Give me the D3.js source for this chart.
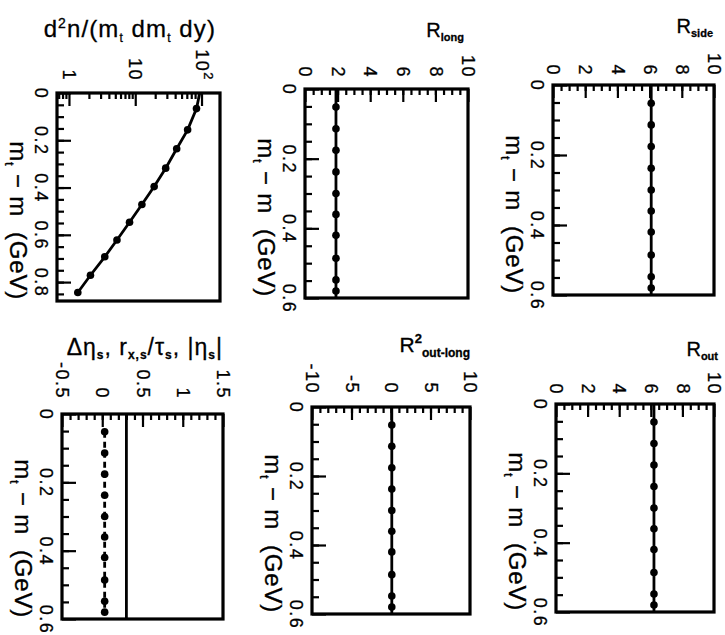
<!DOCTYPE html>
<html><head><meta charset="utf-8">
<script src="https://cdn.jsdelivr.net/npm/d3@7"></script>
<style>
body{margin:0;background:#fff}
svg text{font-family:"Liberation Sans",Arial,Helvetica,sans-serif;fill:#000;stroke:#000;stroke-width:0.3px}
</style>
</head><body>
<svg id="chart" width="725" height="635"></svg>
<script>
// ================= DATA =================
// m_t - m grid (GeV) shared by the HBT-radius panels
const mGrid = [0.052, 0.114, 0.176, 0.238, 0.300, 0.360, 0.420, 0.486, 0.548, 0.580];
const rSideValues     = [6.1, 6.1, 6.1, 6.1, 6.1, 6.1, 6.1, 6.1, 6.1, 6.1];
const rLongValues     = [1.9, 1.9, 1.9, 1.9, 1.9, 1.9, 1.9, 1.9, 1.9, 1.9];
const rOutValues      = [6.2, 6.2, 6.2, 6.2, 6.2, 6.2, 6.2, 6.2, 6.2, 6.2];
const rOutLong2Values = [0.1, 0.1, 0.1, 0.1, 0.1, 0.1, 0.1, 0.1, 0.1, 0.1];
const deltaEtaValues  = [0.03, 0.03, 0.03, 0.03, 0.03, 0.03, 0.03, 0.03, 0.03, 0.03];
// solid reference line in the eta panel
const etaSolidM      = [0, 0.6];
const etaSolidValues = [0.3, 0.3];
// single-particle spectrum d2n/(mt dmt dy)
const spectrumM      = [0.066, 0.156, 0.236, 0.318, 0.396, 0.472, 0.547, 0.622, 0.693, 0.771, 0.844];
const spectrumValues = [84, 61.7, 42.2, 28.8, 19.3, 12.6, 8.2, 5.3, 3.47, 2.11, 1.36];
const spectrumStartM = 0, spectrumStartValue = 94;
// tick labels
const mTickLabels         = [0, 0.2, 0.4, 0.6];
const spectrumMTickLabels = [0, 0.2, 0.4, 0.6, 0.8];
const radiusTickLabels    = [0, 2, 4, 6, 8, 10];
const r2TickLabels        = [-10, -5, 0, 5, 10];
const etaTickLabels       = [-0.5, 0, 0.5, 1, 1.5];
const spectrumTickLabels  = [1, 10, 100];

// ================= LAYOUT =================
const svg = d3.select('#chart');
svg.append('rect').attr('width', 725).attr('height', 635).attr('fill', '#fff');

const sub = (t, size = 11) => ({t, off: 4, size, weight: 'bold'});
const mTitle = [{t: 'm'}, {t: 't', off: 5, size: 13}, {t: '\u00a0\u2212\u00a0m\u00a0\u00a0(GeV)'}];

const panels = [
  {key: 'spec', left: 57, right: 220, top: 93, bottom: 301, log: true,
   vDomain: [0.66, 190], mDomain: [0, 0.88],
   vMajor: spectrumTickLabels, vMinor: [0.7,0.8,0.9,2,3,4,5,6,7,8,9,20,30,40,50,60,70,80,90],
   mMajor: spectrumMTickLabels, mMinor: d3.range(0.05, 0.88, 0.05),
   labelGap: 12, titleX: 216, titleY: 37, titleSize: 24, titleSpacing: 1.1,
   title: [{t: 'd'}, {t: '2', off: -9, size: 14}, {t: 'n/(m'}, {t: 't', off: 5, size: 12}, {t: '\u00a0dm'}, {t: 't', off: 5, size: 12}, {t: '\u00a0dy)'}],
   series: [{m: [spectrumStartM, ...spectrumM], v: [spectrumStartValue, ...spectrumValues], dots: false},
            {m: spectrumM, v: spectrumValues, dots: true, noLine: true}]},
  {key: 'rlong', left: 305, right: 468, top: 89, bottom: 298,
   vDomain: [0, 10], mDomain: [0, 0.6],
   vMajor: radiusTickLabels, vMinor: d3.range(0.5, 10, 0.5),
   mMajor: mTickLabels, mMinor: d3.range(0.05, 0.6, 0.05),
   labelGap: 11, titleX: 464, titleY: 37, titleSize: 20, titleSpacing: 0,
   title: [{t: 'R'}, sub('long')],
   series: [{m: mGrid, v: rLongValues, dots: true, extend: true}]},
  {key: 'rside', left: 553, right: 714, top: 85, bottom: 295,
   vDomain: [0, 10], mDomain: [0, 0.6],
   vMajor: radiusTickLabels, vMinor: d3.range(0.5, 10, 0.5),
   mMajor: mTickLabels, mMinor: d3.range(0.05, 0.6, 0.05),
   labelGap: 9, titleX: 713, titleY: 33, titleSize: 20, titleSpacing: 0,
   title: [{t: 'R'}, sub('side')],
   series: [{m: mGrid, v: rSideValues, dots: true, extend: true}]},
  {key: 'eta', left: 62, right: 223, top: 414, bottom: 619,
   vDomain: [-0.5, 1.5], mDomain: [0, 0.6],
   vMajor: etaTickLabels, vMinor: d3.range(-0.4, 1.5, 0.1),
   mMajor: mTickLabels, mMinor: d3.range(0.05, 0.6, 0.05),
   labelGap: 15, titleX: 223, titleY: 355, titleSize: 23, titleSpacing: 1,
   title: [{t: '\u0394\u03b7'}, sub('s', 12), {t: ',\u00a0r'}, sub('x,s', 12), {t: '/\u03c4'}, sub('s', 12), {t: ',\u00a0|\u03b7'}, sub('s', 12), {t: '|'}],
   series: [{m: etaSolidM, v: etaSolidValues, dots: false},
            {m: mGrid, v: deltaEtaValues, dots: true, dashed: true}]},
  {key: 'r2ol', left: 312, right: 470, top: 407, bottom: 614,
   vDomain: [-10, 10], mDomain: [0, 0.6],
   vMajor: r2TickLabels, vMinor: d3.range(-9, 10, 1),
   mMajor: mTickLabels, mMinor: d3.range(0.05, 0.6, 0.05),
   labelGap: 13, titleX: 470, titleY: 352, titleSize: 21, titleSpacing: 0,
   title: [{t: 'R'}, {t: '2', off: -9, size: 13, weight: 'bold'}, {t: 'out-long', off: 5, size: 12, weight: 'bold'}],
   series: [{m: mGrid, v: rOutLong2Values, dots: true, extend: true}]},
  {key: 'rout', left: 556, right: 714, top: 404, bottom: 612,
   vDomain: [0, 10], mDomain: [0, 0.6],
   vMajor: radiusTickLabels, vMinor: d3.range(0.5, 10, 0.5),
   mMajor: mTickLabels, mMinor: d3.range(0.05, 0.6, 0.05),
   labelGap: 9, titleX: 718, titleY: 356, titleSize: 20, titleSpacing: 0,
   title: [{t: 'R'}, sub('out')],
   series: [{m: mGrid, v: rOutValues, dots: true, extend: true}]}
];

function richText(textSel, parts) {
  let cur = 0;
  parts.forEach(p => {
    const off = p.off || 0;
    const ts = textSel.append('tspan').text(p.t).attr('dy', off - cur);
    cur = off;
    if (p.size) ts.attr('font-size', p.size);
    if (p.weight) ts.attr('font-weight', p.weight);
  });
}

const fmtValue = (key) => (d) => {
  if (key === 'spec') return d === 100 ? '10' : String(d);
  return String(d);
};

panels.forEach(p => {
  const w = p.right - p.left, h = p.bottom - p.top;
  const g = svg.append('g').attr('transform', `translate(${p.left},${p.top})`);
  const x = (p.log ? d3.scaleLog() : d3.scaleLinear()).domain(p.vDomain).range([0, w]);
  const y = d3.scaleLinear().domain(p.mDomain).range([0, h]);

  // value axis (top edge) – ticks point inward
  const vMinorAx = g.append('g').call(d3.axisTop(x).tickValues(p.vMinor).tickSize(-6).tickFormat(''));
  const vMajorAx = g.append('g').call(d3.axisTop(x).tickValues(p.vMajor).tickSize(-13).tickFormat(fmtValue(p.key)));
  // m axis (left edge)
  const mMinorAx = g.append('g').call(d3.axisLeft(y).tickValues(p.mMinor).tickSize(-7).tickFormat(''));
  const mMajorAx = g.append('g').call(d3.axisLeft(y).tickValues(p.mMajor).tickSize(-14).tickFormat(d => String(d)));
  [vMinorAx, vMajorAx, mMinorAx, mMajorAx].forEach(a => {
    a.select('.domain').remove();
    a.attr('font-family', null).attr('font-size', 18);
    a.selectAll('line').attr('stroke', '#000').attr('stroke-width', 2.2);
  });
  vMajorAx.selectAll('text')
    .attr('x', 0).attr('y', 0).attr('dy', '0.35em')
    .attr('text-anchor', 'end').attr('letter-spacing', 1.5)
    .attr('transform', `translate(0,${-p.labelGap}) rotate(90)`)
    .each(function(d) {
      if (p.key === 'spec' && d === 100) {
        d3.select(this).append('tspan').text('2').attr('font-size', 13).attr('dy', -8);
      }
    });
  mMajorAx.selectAll('text')
    .attr('x', 0).attr('y', 0).attr('dy', '0.35em')
    .attr('text-anchor', 'middle').attr('letter-spacing', 1.5)
    .attr('transform', `translate(-16,0) rotate(90)`);

  // axis title (rotated)
  const at = g.append('text').attr('font-size', 24).attr('text-anchor', 'end').attr('letter-spacing', 0.8)
    .attr('transform', `translate(-47,${h - 1}) rotate(90)`);
  richText(at, mTitle);

  // series
  p.series.forEach(s => {
    let pts = s.m.map((m, i) => ({m, v: s.v[i]}));
    let linePts = pts;
    if (s.extend) linePts = [{m: p.mDomain[0], v: s.v[0]}, ...pts, {m: p.mDomain[1], v: s.v[s.v.length - 1]}];
    if (!s.noLine) {
      g.append('path').datum(linePts)
        .attr('fill', 'none').attr('stroke', '#000').attr('stroke-width', 2.8)
        .attr('stroke-dasharray', s.dashed ? '6,4' : null)
        .attr('d', d3.line().x(d => x(d.v)).y(d => y(d.m)));
    }
    if (s.dots) {
      g.selectAll(null).data(pts).join('circle')
        .attr('cx', d => x(d.v)).attr('cy', d => y(d.m)).attr('r', 3.8).attr('fill', '#000');
    }
  });

  // frame
  g.append('rect').attr('width', w).attr('height', h)
    .attr('fill', 'none').attr('stroke', '#000').attr('stroke-width', 3.2);

  // panel title (upright)
  const tt = svg.append('text').attr('x', p.titleX).attr('y', p.titleY)
    .attr('font-size', p.titleSize).attr('text-anchor', 'end')
    .attr('letter-spacing', p.titleSpacing);
  richText(tt, p.title);
});
</script>
</body></html>
